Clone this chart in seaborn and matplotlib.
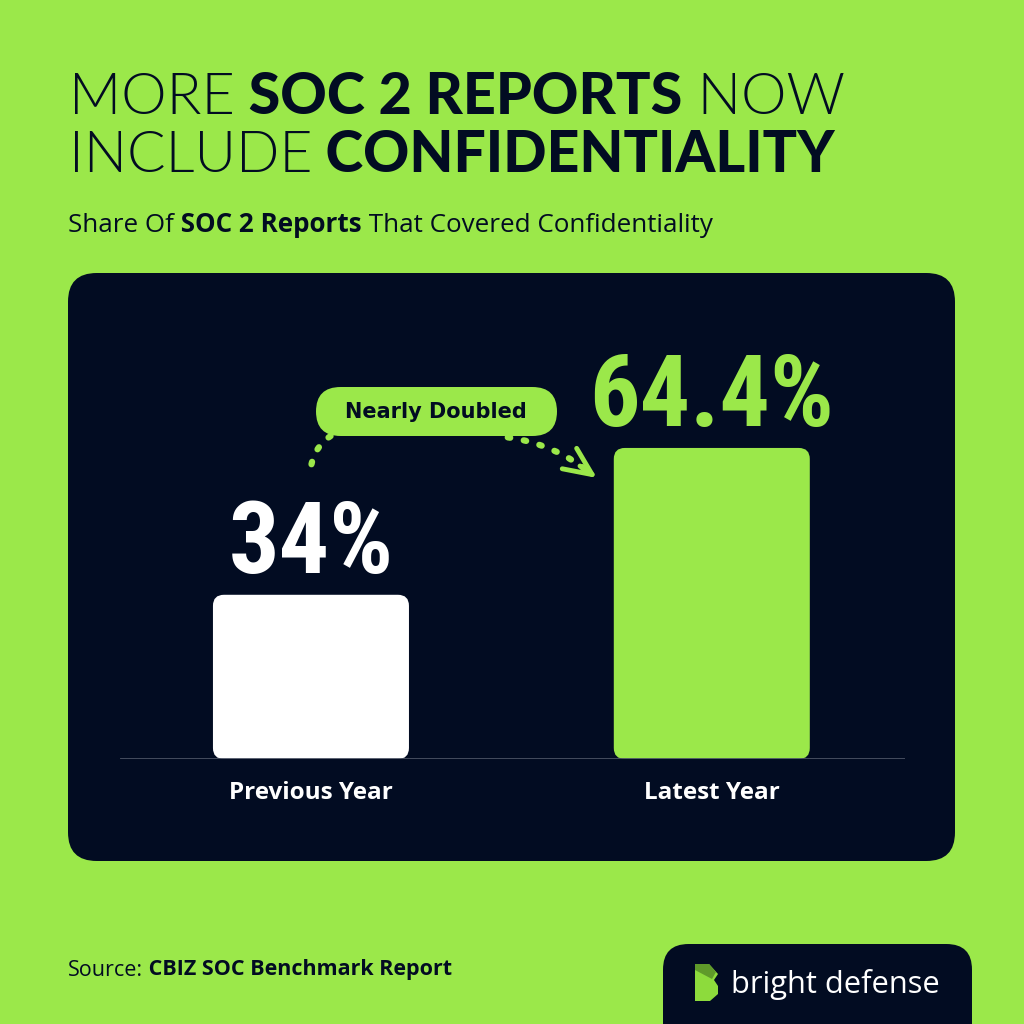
import matplotlib
matplotlib.use("Agg")
import matplotlib.pyplot as plt
from matplotlib.patches import FancyBboxPatch, FancyArrowPatch, Polygon
import pandas as pd
import seaborn as sns

# data
categories = ["Previous Year", "Latest Year"]
shares = [34.0, 64.4]
value_labels = ["34%", "64.4%"]

GREEN = "#9be84a"
DARK = "#020c22"
WHITE = "#ffffff"

sns.set_theme(style="white")
plt.rcParams["font.family"] = ["Open Sans", "DejaVu Sans"]

fig = plt.figure(figsize=(10.24, 10.24), dpi=100)
fig.patch.set_facecolor(GREEN)
R = fig.canvas.get_renderer()


def fx(x):
    return x / 1024


def fy(y):
    return 1 - y / 1024


def rich(pieces, x, y, size, color=DARK, family="Open Sans", width=None):
    # runs of text one after another, pieces = [(text, weight)]
    # if width is given the font size is scaled so the line fits that many pixels
    if width is not None:
        total = 0
        for txt, w in pieces:
            t = fig.text(0, 0, txt, fontsize=size, fontweight=w, family=family)
            total += t.get_window_extent(renderer=R).width
            t.remove()
        size = size * width / total
    cx = fx(x)
    for txt, w in pieces:
        t = fig.text(cx, fy(y), txt, fontsize=size, fontweight=w, color=color,
                     family=family, va="center", ha="left", zorder=5)
        cx = cx + t.get_window_extent(renderer=R).width / 1024


# dark panel
panel = FancyBboxPatch((fx(68), fy(861)), fx(887), fx(588),
                       boxstyle="round,pad=0,rounding_size=0.028",
                       transform=fig.transFigure, facecolor=DARK, edgecolor="none", zorder=-2)
fig.patches.append(panel)

# title + subtitle + source
rich([("MORE", 300), (" SOC 2 REPORTS", 900), (" NOW", 300)], 69, 98, 42, family="Lato", width=776)
rich([("INCLUDE", 300), (" CONFIDENTIALITY", 900)], 69, 156, 42, family="Lato", width=766)
rich([("Share Of", "normal"), (" SOC 2 Reports", "bold"), (" That Covered Confidentiality", "normal")],
     68, 225, 16, width=646)
rich([("Source:", "normal"), (" CBIZ SOC Benchmark Report", "bold")], 68, 970, 13, width=383)

# logo box
logo = FancyBboxPatch((fx(663), fy(1060)), fx(309), fx(116),
                      boxstyle="round,pad=0,rounding_size=0.025",
                      transform=fig.transFigure, facecolor=DARK, edgecolor="none", zorder=-2)
fig.patches.append(logo)
icon_a = Polygon([[fx(695), fy(964)], [fx(709), fy(964)], [fx(718), fy(974)], [fx(714), fy(980)],
                  [fx(718), fy(986)], [fx(718), fy(994)], [fx(710), fy(1001)], [fx(695), fy(1001)]],
                 closed=True, transform=fig.transFigure, facecolor="#8ddb3c", edgecolor="none")
icon_b = Polygon([[fx(695), fy(964)], [fx(709), fy(964)], [fx(716), fy(972)], [fx(712), fy(979)],
                  [fx(695), fy(970)]],
                 closed=True, transform=fig.transFigure, facecolor="#5f9a2a", edgecolor="none")
fig.patches.extend([icon_a, icon_b])
rich([("bright defense", "normal")], 731, 984, 21, color=WHITE, width=209)

# bar chart
ax = fig.add_axes([fx(120), fy(759), fx(785), fx(483)], zorder=1)
ax.set_facecolor("none")
df = pd.DataFrame({"period": categories, "share": shares})
sns.barplot(data=df, x="period", y="share", hue="period", palette=[WHITE, GREEN],
            width=0.489, legend=False, ax=ax, saturation=1)
ax.set_xlim(-0.4764, 1.482)
ax.set_ylim(0, 100)

# round the bar corners
px_x = 785 / 1.958
px_y = 483 / 100
for p in list(ax.patches):
    x0, y0 = p.get_x(), p.get_y()
    w, h = p.get_width(), p.get_height()
    fc = p.get_facecolor()
    p.remove()
    r = 11 / px_x
    rb = FancyBboxPatch((x0, y0), w, h, boxstyle=f"round,pad=0,rounding_size={r}",
                        mutation_aspect=px_x / px_y, facecolor=fc, edgecolor="none", zorder=2)
    ax.add_patch(rb)

ax.axhline(0, color="#4a5264", lw=2, zorder=3)
for s in ax.spines.values():
    s.set_visible(False)
ax.set_yticks([])
ax.set_xlabel("")
ax.set_ylabel("")
ax.tick_params(axis="x", length=0, pad=16, labelcolor=WHITE, labelsize=17.5)
for lab in ax.get_xticklabels():
    lab.set_fontweight("bold")
    lab.set_family("Open Sans")

label_colors = [WHITE, GREEN]
for i, (v, txt) in enumerate(zip(shares, value_labels)):
    ax.annotate(txt, (i, v), xytext=(0, 16), textcoords="offset points",
                ha="center", va="baseline", fontsize=72, fontweight="bold",
                color=label_colors[i], family=["Roboto Condensed", "Roboto", "DejaVu Sans"])

# "Nearly Doubled" pill and dotted arrows
pill = FancyBboxPatch((fx(316), fy(436)), fx(241), fx(49),
                      boxstyle="round,pad=0,rounding_size=0.024",
                      transform=fig.transFigure, facecolor=GREEN, edgecolor="none", zorder=4)
fig.patches.append(pill)
fig.text(fx(436), fy(412), "Nearly Doubled", fontsize=15, fontweight="bold", color=DARK,
         ha="center", va="center", family="DejaVu Sans", zorder=5)

a1 = FancyArrowPatch((fx(311), fy(467)), (fx(334), fy(434)), transform=fig.transFigure,
                     connectionstyle="arc3,rad=-0.25", arrowstyle="-", color=GREEN,
                     lw=4.5, linestyle=(0, (0.4, 2.2)), capstyle="round", zorder=3)
a2 = FancyArrowPatch((fx(505), fy(437)), (fx(594), fy(476)), transform=fig.transFigure,
                     connectionstyle="arc3,rad=-0.15", arrowstyle="-", color=GREEN,
                     lw=4.5, linestyle=(0, (0.4, 2.2)), capstyle="round", zorder=3)
fig.patches.extend([a1, a2])
fig.patches.append(FancyArrowPatch((fx(580), fy(466)), (fx(597), fy(478)), transform=fig.transFigure,
                                   arrowstyle="->,head_length=20,head_width=9", color=GREEN, lw=3.5,
                                   shrinkA=0, shrinkB=0, zorder=3, capstyle="round"))

fig.savefig("out.png", dpi=100, facecolor=GREEN)
